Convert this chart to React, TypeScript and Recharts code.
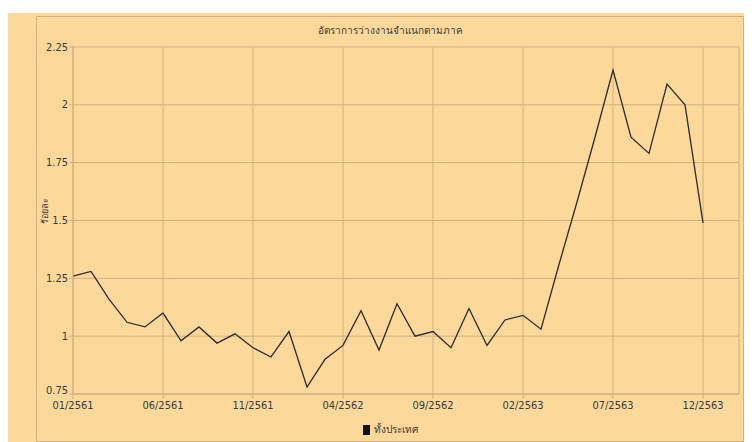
import React from 'react';
import { LineChart, Line, XAxis, YAxis, CartesianGrid } from 'recharts';

const months = [
  '01/2561', '02/2561', '03/2561', '04/2561', '05/2561', '06/2561',
  '07/2561', '08/2561', '09/2561', '10/2561', '11/2561', '12/2561',
  '01/2562', '02/2562', '03/2562', '04/2562', '05/2562', '06/2562',
  '07/2562', '08/2562', '09/2562', '10/2562', '11/2562', '12/2562',
  '01/2563', '02/2563', '03/2563', '04/2563', '05/2563', '06/2563',
  '07/2563', '08/2563', '09/2563', '10/2563', '11/2563', '12/2563',
];

// ทั้งประเทศ, ร้อยละ
const rates = [
  1.26, 1.28, 1.16, 1.06, 1.04, 1.10, 0.98, 1.04, 0.97, 1.01, 0.95, 0.91,
  1.02, 0.78, 0.90, 0.96, 1.11, 0.94, 1.14, 1.00, 1.02, 0.95, 1.12, 0.96,
  1.07, 1.09, 1.03, 1.31, 1.58, 1.86, 2.15, 1.86, 1.79, 2.09, 2.00, 1.49,
];

const yTicks = [0.75, 1, 1.25, 1.5, 1.75, 2, 2.25];

const title = 'อัตราการว่างงานจำแนกตามภาค';
const yLabel = 'ร้อยละ';
const seriesName = 'ทั้งประเทศ';

const data = months.map((m, i) => ({ month: m, rate: rates[i] }));

const BG = '#FDD89B';
const GRID = '#D1B07D';
const TEXT = '#3a3a3a';
const FONT = "'Liberation Sans Narrow', 'DejaVu Sans Condensed', 'Noto Sans', sans-serif";

const YLabel = (props: any) => {
  const { viewBox } = props;
  const cx = viewBox.x + 12;
  const cy = viewBox.y + viewBox.height / 2 - 10;
  return (
    <text x={cx} y={cy} transform={`rotate(-90 ${cx} ${cy})`} textAnchor="middle"
      dominantBaseline="central" fontSize={9} fill={TEXT} fontFamily={FONT}>
      {yLabel}
    </text>
  );
};

// the lowest label sits a little higher, as in the original
const YTick = (props: any) => {
  const { x, y, payload } = props;
  const lift = payload.value === yTicks[0] ? -4 : 0;
  return (
    <text x={x} y={y + lift} textAnchor="end" dominantBaseline="central"
      fontSize={11} fill={TEXT} fontFamily={FONT}>
      {payload.value}
    </text>
  );
};

export default function App() {
  return (
    <div style={{ position: 'relative', width: 740, height: 434, marginTop: 5, background: BG, fontFamily: FONT }}>
      <div style={{
        position: 'absolute', left: 28, top: 3, width: 708, height: 426,
        boxSizing: 'border-box', border: `1px solid ${GRID}`,
      }} />
      <div style={{
        position: 'absolute', left: 28, top: 12, width: 708, textAlign: 'center',
        fontSize: 10, color: TEXT, lineHeight: '12px',
      }}>
        {title}
      </div>
      <LineChart width={740} height={434} data={data}
        margin={{ top: 34, right: 9, bottom: 23, left: 25 }}
        style={{ position: 'absolute', left: 0, top: 0 }}>
        <CartesianGrid stroke={GRID} strokeWidth={1} />
        <XAxis dataKey="month" interval={4} padding={{ left: 0, right: 36 }} height={30}
          tickSize={5} tickMargin={2} stroke={GRID}
          tick={{ fill: TEXT, fontSize: 11, fontFamily: FONT }} />
        <YAxis domain={[0.75, 2.25]} ticks={yTicks} width={40} tickSize={4} tickMargin={1}
          stroke={GRID} tick={<YTick />} label={<YLabel />} />
        <Line type="linear" dataKey="rate" name={seriesName} stroke="#2b2b2b" strokeWidth={1.3}
          dot={false} activeDot={false} isAnimationActive={false} />
      </LineChart>
      <div style={{
        position: 'absolute', left: 28, top: 409, width: 708, display: 'flex',
        justifyContent: 'center', alignItems: 'center', fontSize: 10, color: TEXT,
      }}>
        <span style={{ display: 'inline-block', width: 7, height: 10, background: '#111', marginRight: 4 }} />
        <span>{seriesName}</span>
      </div>
    </div>
  );
}
